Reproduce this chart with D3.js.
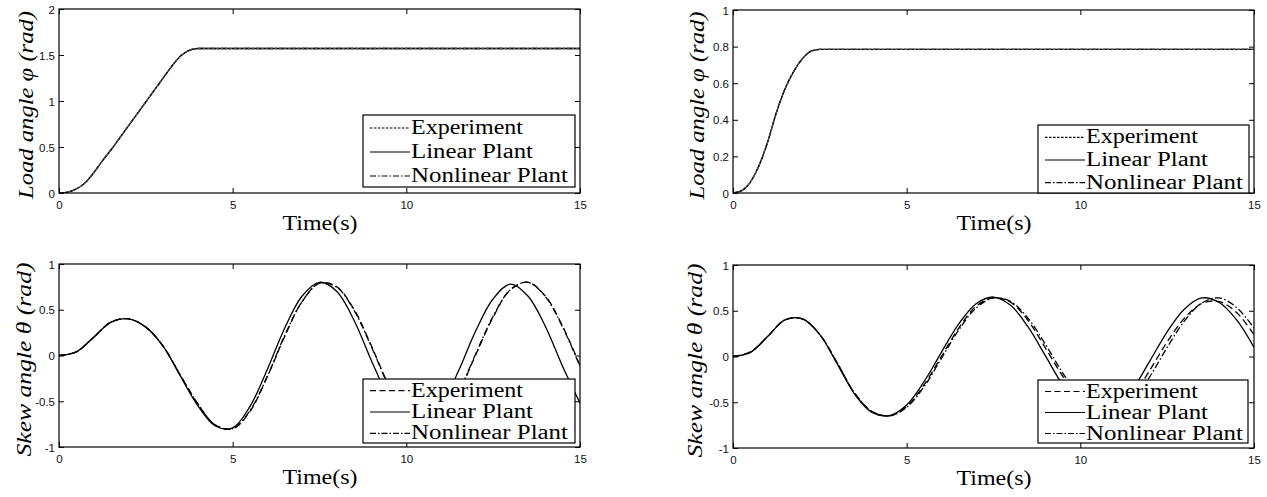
<!DOCTYPE html>
<html>
<head>
<meta charset="utf-8">
<script src="https://cdn.jsdelivr.net/npm/d3@7"></script>
<style>
  html, body { margin: 0; padding: 0; background: #fff; }
  svg { display: block; }
  .tick text { font-family: 'Liberation Sans', Arial, sans-serif; font-size: 11.5px; fill: #111; }
  .tick line { stroke: #000; }
  .axis-title { font-family: 'Liberation Serif', 'Times New Roman', serif; font-size: 20px; fill: #000; }
  .legend-text { font-family: 'Liberation Serif', 'Times New Roman', serif; font-size: 20px; fill: #000; }
</style>
</head>
<body>
<div class="visual"></div>
<script>
const [width, height] = [1267, 497];

// load angle, first case (phi -> pi/2)
const phi_time_a = [0, 0.25, 0.5, 0.75, 1, 1.25, 1.5, 1.75, 2, 2.25, 2.5, 2.75, 3, 3.25, 3.5, 3.75, 4, 15];
const phi_a = [0, 0.01, 0.045, 0.11, 0.22, 0.35, 0.47, 0.6, 0.73, 0.86, 0.99, 1.12, 1.25, 1.38, 1.49, 1.55, 1.5708, 1.5708];

// load angle, second case (phi -> pi/4)
const phi_time_b = [0, 0.25, 0.5, 0.75, 1, 1.25, 1.5, 1.75, 2, 2.25, 2.5, 15];
const phi_b = [0, 0.013, 0.06, 0.15, 0.28, 0.44, 0.57, 0.665, 0.734, 0.775, 0.785, 0.785];

// skew angle, sampled every half second
const skew_time = [0, 0.5, 1, 1.5, 2, 2.5, 3, 3.5, 4, 4.5, 5, 5.5, 6, 6.5, 7, 7.5, 8, 8.5, 9, 9.5, 10, 10.5, 11, 11.5, 12, 12.5, 13, 13.5, 14, 14.5, 15];

const skew_a_exp = [0, 0.04, 0.2, 0.365, 0.4, 0.31, 0.1, -0.22, -0.53, -0.76, -0.8, -0.61, -0.23, 0.21, 0.59, 0.79, 0.75, 0.5, 0.1, -0.33, -0.66, -0.8, -0.71, -0.41, 0.01, 0.42, 0.72, 0.8, 0.65, 0.32, -0.11];
const skew_a_lin = [0, 0.04, 0.2, 0.365, 0.4, 0.31, 0.1, -0.23, -0.55, -0.77, -0.79, -0.555, -0.15, 0.3, 0.65, 0.8, 0.7, 0.38, -0.06, -0.47, -0.75, -0.79, -0.56, -0.17, 0.27, 0.62, 0.78, 0.65, 0.32, -0.12, -0.52];
const skew_a_non = [0, 0.04, 0.2, 0.365, 0.4, 0.31, 0.1, -0.22, -0.53, -0.76, -0.8, -0.6, -0.225, 0.22, 0.59, 0.79, 0.745, 0.49, 0.09, -0.34, -0.67, -0.8, -0.7, -0.4, 0.02, 0.43, 0.72, 0.8, 0.645, 0.31, -0.12];

const skew_b_exp = [0, 0.05, 0.22, 0.4, 0.41, 0.24, -0.07, -0.4, -0.6, -0.65, -0.545, -0.31, 0, 0.31, 0.55, 0.64, 0.59, 0.39, 0.09, -0.22, -0.49, -0.63, -0.61, -0.44, -0.15, 0.16, 0.42, 0.58, 0.6, 0.48, 0.24];
const skew_b_lin = [0, 0.045, 0.22, 0.4, 0.41, 0.24, -0.08, -0.41, -0.61, -0.645, -0.53, -0.275, 0.046, 0.356, 0.577, 0.65, 0.557, 0.32, 0.004, -0.315, -0.55, -0.65, -0.58, -0.36, -0.05, 0.27, 0.52, 0.64, 0.59, 0.4, 0.1];
const skew_b_non = [0, 0.045, 0.22, 0.4, 0.41, 0.24, -0.07, -0.4, -0.6, -0.65, -0.555, -0.33, -0.02, 0.29, 0.53, 0.64, 0.6, 0.415, 0.13, -0.185, -0.46, -0.62, -0.63, -0.485, -0.22, 0.1, 0.39, 0.585, 0.64, 0.535, 0.31];

const x_ticks = [0, 5, 10, 15];
const y_ticks_phi_a = [0, 0.5, 1, 1.5, 2];
const y_ticks_phi_b = [0, 0.2, 0.4, 0.6, 0.8, 1];
const y_ticks_skew = [-1, -0.5, 0, 0.5, 1];
const series_names = ['Experiment', 'Linear Plant', 'Nonlinear Plant'];
const legend_widths = [112, 122, 157];

const svg = d3
  .select('.visual')
  .append('svg')
  .attr('width', width)
  .attr('height', height);

const panels = [
  {
    box: [59, 9, 580, 193],
    y_domain: [0, 2],
    y_ticks: y_ticks_phi_a,
    label: 'Load angle φ (rad)',
    label_x: 33,
    label_len: 188,
    curve: d3.curveMonotoneX,
    series: [
      { t: phi_time_a, v: phi_a, dash: null },
      { t: phi_time_a, v: phi_a, dash: '6,2,1.5,2' },
      { t: phi_time_a, v: phi_a, dash: '2.5,2', color: '#555' },
    ],
    exp_dash: '2.5,1.5',
    legend: [363, 115, 575, 187],
  },
  {
    box: [733, 10, 1254, 193],
    y_domain: [0, 1],
    y_ticks: y_ticks_phi_b,
    label: 'Load angle φ (rad)',
    label_x: 704,
    label_len: 188,
    curve: d3.curveMonotoneX,
    series: [
      { t: phi_time_b, v: phi_b, dash: null },
      { t: phi_time_b, v: phi_b, dash: '6,2,1.5,2' },
      { t: phi_time_b, v: phi_b, dash: '2.5,2', color: '#555' },
    ],
    exp_dash: '2.5,1.5',
    legend: [1038, 125, 1249, 193],
  },
  {
    box: [59, 264, 580, 447],
    y_domain: [-1, 1],
    y_ticks: y_ticks_skew,
    label: 'Skew angle θ (rad)',
    label_x: 31,
    label_len: 194,
    curve: d3.curveCatmullRom,
    series: [
      { t: skew_time, v: skew_a_lin, dash: null },
      { t: skew_time, v: skew_a_non, dash: '7,2.5,1.5,2.5' },
      { t: skew_time, v: skew_a_exp, dash: '7,4' },
    ],
    exp_dash: '6,3.5',
    legend: [363, 379, 575, 443],
  },
  {
    box: [733, 265, 1254, 448],
    y_domain: [-1, 1],
    y_ticks: y_ticks_skew,
    label: 'Skew angle θ (rad)',
    label_x: 702,
    label_len: 194,
    curve: d3.curveCatmullRom,
    series: [
      { t: skew_time, v: skew_b_lin, dash: null },
      { t: skew_time, v: skew_b_non, dash: '7,2.5,1.5,2.5' },
      { t: skew_time, v: skew_b_exp, dash: '7,4' },
    ],
    exp_dash: '6,3.5',
    legend: [1038, 380, 1248, 443],
  },
];

const drawPanel = (panel, idx) => {
  const [x0, y0, x1, y1] = panel.box;
  const x_scale = d3.scaleLinear().domain([0, 15]).range([x0, x1]);
  const y_scale = d3.scaleLinear().domain(panel.y_domain).range([y1, y0]);
  const fmt = (d) => String(d);
  const g = svg.append('g');

  g.append('clipPath')
    .attr('id', 'clip' + idx)
    .append('rect')
    .attr('x', x0)
    .attr('y', y0)
    .attr('width', x1 - x0)
    .attr('height', y1 - y0);

  // axes, ticks pointing inward on all four sides
  const bottom = g
    .append('g')
    .attr('transform', `translate(0, ${y1})`)
    .call(d3.axisBottom(x_scale).tickValues(x_ticks).tickFormat(fmt).tickSize(-5).tickPadding(8));
  const left = g
    .append('g')
    .attr('transform', `translate(${x0}, 0)`)
    .call(d3.axisLeft(y_scale).tickValues(panel.y_ticks).tickFormat(fmt).tickSize(-5).tickPadding(4));
  g.append('g')
    .attr('transform', `translate(0, ${y0})`)
    .call(d3.axisTop(x_scale).tickValues(x_ticks).tickFormat('').tickSize(-5));
  g.append('g')
    .attr('transform', `translate(${x1}, 0)`)
    .call(d3.axisRight(y_scale).tickValues(panel.y_ticks).tickFormat('').tickSize(-5));
  g.selectAll('.domain').remove();
  bottom.selectAll('text').attr('dy', '0.71em');
  left.selectAll('text').attr('dy', '0.35em');

  const line = (s) =>
    d3
      .line()
      .x((d, i) => x_scale(s.t[i]))
      .y((d) => y_scale(d))
      .curve(panel.curve)(s.v);

  g.append('g')
    .attr('clip-path', `url(#clip${idx})`)
    .selectAll('path')
    .data(panel.series)
    .enter()
    .append('path')
    .attr('d', (s) => line(s))
    .attr('fill', 'none')
    .attr('stroke', (s) => s.color || '#000')
    .attr('stroke-width', 1.3)
    .attr('stroke-dasharray', (s) => s.dash);

  g.append('rect')
    .attr('x', x0)
    .attr('y', y0)
    .attr('width', x1 - x0)
    .attr('height', y1 - y0)
    .attr('fill', 'none')
    .attr('stroke', '#000')
    .attr('stroke-width', 1.2);

  // legend
  const [lx0, ly0, lx1, ly1] = panel.legend;
  g.append('rect')
    .attr('x', lx0)
    .attr('y', ly0)
    .attr('width', lx1 - lx0)
    .attr('height', ly1 - ly0)
    .attr('fill', '#fff')
    .attr('stroke', '#000')
    .attr('stroke-width', 1.2);
  const row_h = (ly1 - ly0) / 3;
  const legend_dash = [panel.exp_dash, null, '6,2,1.5,2'];
  series_names.forEach((name, i) => {
    const cy = ly0 + row_h * (i + 0.5) + 1;
    g.append('line')
      .attr('x1', lx0 + 7)
      .attr('x2', lx0 + 47)
      .attr('y1', cy)
      .attr('y2', cy)
      .attr('stroke', '#000')
      .attr('stroke-width', 1.1)
      .attr('stroke-dasharray', legend_dash[i]);
    g.append('text')
      .attr('class', 'legend-text')
      .attr('x', lx0 + 48)
      .attr('y', cy + 6)
      .attr('textLength', legend_widths[i])
      .attr('lengthAdjust', 'spacingAndGlyphs')
      .text(name);
  });

  g.append('text')
    .attr('class', 'axis-title')
    .attr('x', (x0 + x1) / 2 - 37)
    .attr('y', y1 + 37)
    .attr('textLength', 75)
    .attr('lengthAdjust', 'spacingAndGlyphs')
    .text('Time(s)');

  g.append('text')
    .attr('class', 'axis-title')
    .attr('transform', `translate(${panel.label_x}, ${(y0 + y1) / 2 + panel.label_len / 2 + 4}) rotate(-90)`)
    .attr('textLength', panel.label_len)
    .attr('lengthAdjust', 'spacingAndGlyphs')
    .style('font-style', 'italic')
    .text(panel.label);
};

panels.forEach(drawPanel);
</script>
</body>
</html>
